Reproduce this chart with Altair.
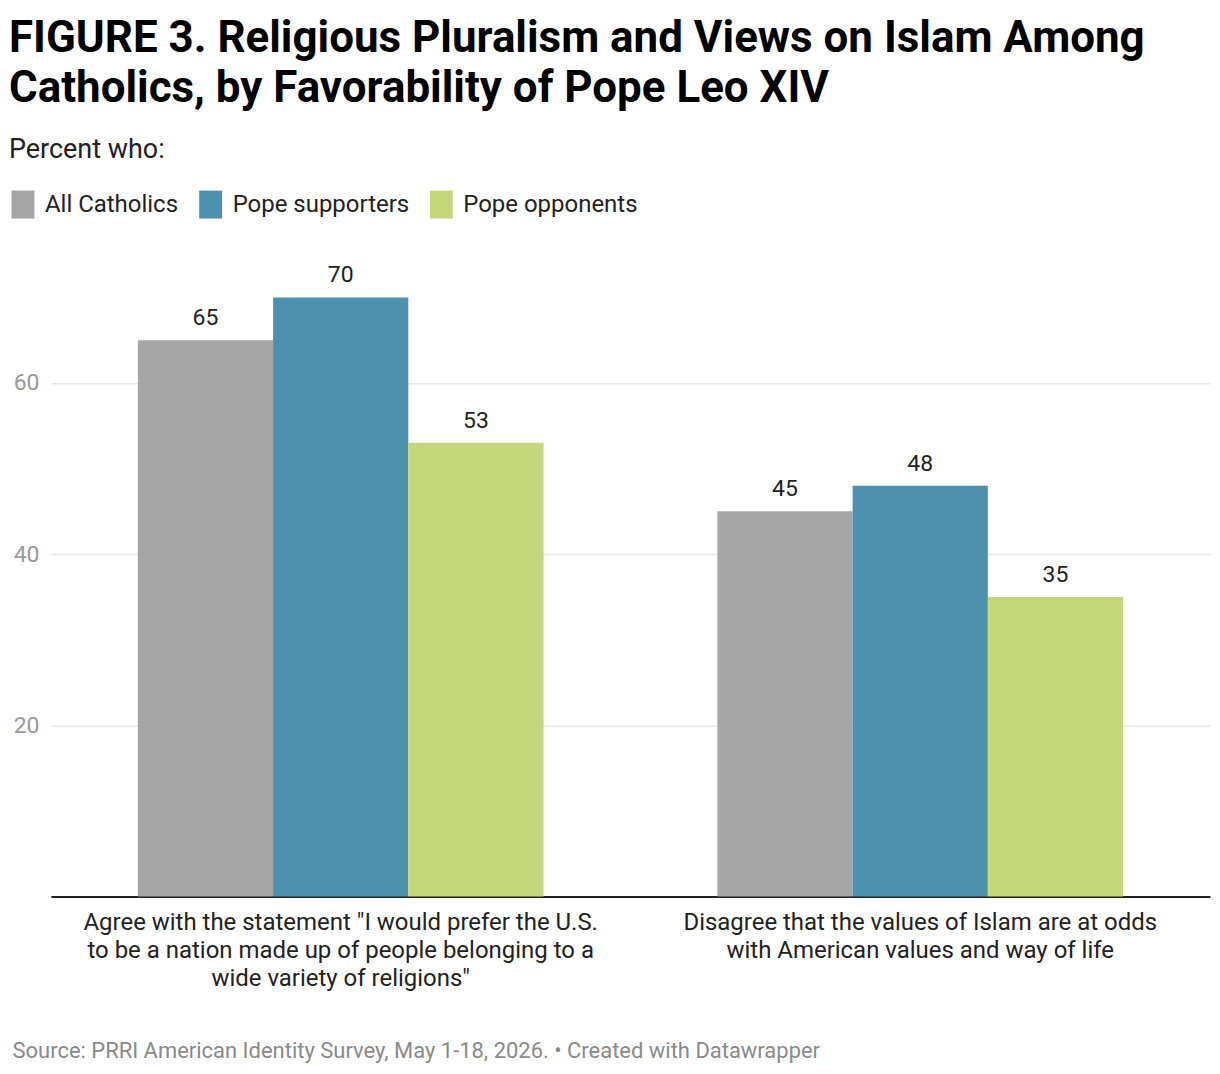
import altair as alt
import pandas as pd

questions = [
    'Agree with the statement "I would prefer the U.S.|to be a nation made up of people belonging to a|wide variety of religions"',
    'Disagree that the values of Islam are at odds|with American values and way of life',
]
groups = ["All Catholics", "Pope supporters", "Pope opponents"]
all_catholics = [65, 45]
pope_supporters = [70, 48]
pope_opponents = [53, 35]
colors = ["#a5a5a5", "#4e91ae", "#c5d67b"]
y_ticks = [20, 40, 60]

title_lines = [
    "FIGURE 3. Religious Pluralism and Views on Islam Among",
    "Catholics, by Favorability of Pope Leo XIV",
]
subtitle = "Percent who:"
source = "Source: PRRI American Identity Survey, May 1-18, 2026. \u2022 Created with Datawrapper"

rows = []
for i, q in enumerate(questions):
    for g, vals in zip(groups, [all_catholics, pope_supporters, pope_opponents]):
        rows.append({"question": q, "group": g, "value": vals[i]})
df = pd.DataFrame(rows)

FONT = "Roboto"

base = alt.Chart(df).encode(
    x=alt.X(
        "question:N",
        sort=questions,
        scale=alt.Scale(paddingInner=0.3, paddingOuter=0.15),
        axis=alt.Axis(
            labelExpr="split(datum.value, '|')",
            labelAngle=0,
            labelFontSize=24,
            labelLineHeight=28,
            labelColor="#222222",
            labelPadding=14,
            labelLimit=0,
            ticks=False,
            domain=True,
            domainColor="#222222",
            domainWidth=2,
            title=source,
            titleFontSize=22,
            titleFontWeight="normal",
            titleColor="#8a8a8a",
            titleAnchor="start",
            titleAlign="left",
            titleBaseline="alphabetic",
            titleX=-39,
            titleY=161,
        ),
    ),
    xOffset=alt.XOffset(
        "group:N", sort=groups, scale=alt.Scale(paddingInner=0, paddingOuter=0)
    ),
    y=alt.Y(
        "value:Q",
        scale=alt.Scale(domain=[0, 70], nice=False),
        axis=alt.Axis(
            values=y_ticks,
            grid=True,
            gridColor="#e6e6e6",
            gridWidth=1.5,
            domain=False,
            ticks=False,
            labelColor="#999999",
            labelFontSize=23,
            labelPadding=12,
            title=None,
        ),
    ),
)

bars = base.mark_bar().encode(
    color=alt.Color(
        "group:N",
        sort=groups,
        scale=alt.Scale(domain=groups, range=colors),
        legend=alt.Legend(
            orient="none",
            legendX=-42,
            legendY=-107,
            direction="horizontal",
            title=None,
            symbolType="M-0.82,-1H0.82V1H-0.82Z",
            symbolSize=784,
            symbolStrokeWidth=0,
            symbolOpacity=1,
            labelFontSize=24,
            labelColor="#222222",
            labelOffset=8,
            labelLimit=0,
            columnPadding=18,
        ),
    )
)

labels = base.mark_text(
    baseline="alphabetic", dy=-15, fontSize=23, color="#222222"
).encode(text=alt.Text("value:Q"))

chart = (
    alt.layer(bars, labels)
    .properties(
        width=1161,
        height=600,
        padding={"left": 1, "top": 8, "right": 2, "bottom": 5},
        title=alt.TitleParams(
            text=title_lines,
            subtitle=subtitle,
            anchor="start",
            frame="bounds",
            fontSize=44,
            fontWeight="bold",
            color="#000000",
            lineHeight=50,
            subtitleFontSize=27,
            subtitleColor="#222222",
            subtitlePadding=26,
            offset=28,
        ),
    )
    .configure(font=FONT)
    .configure_view(stroke=None)
)

chart.save("out.html", embed_options={"renderer": "svg", "actions": False})
